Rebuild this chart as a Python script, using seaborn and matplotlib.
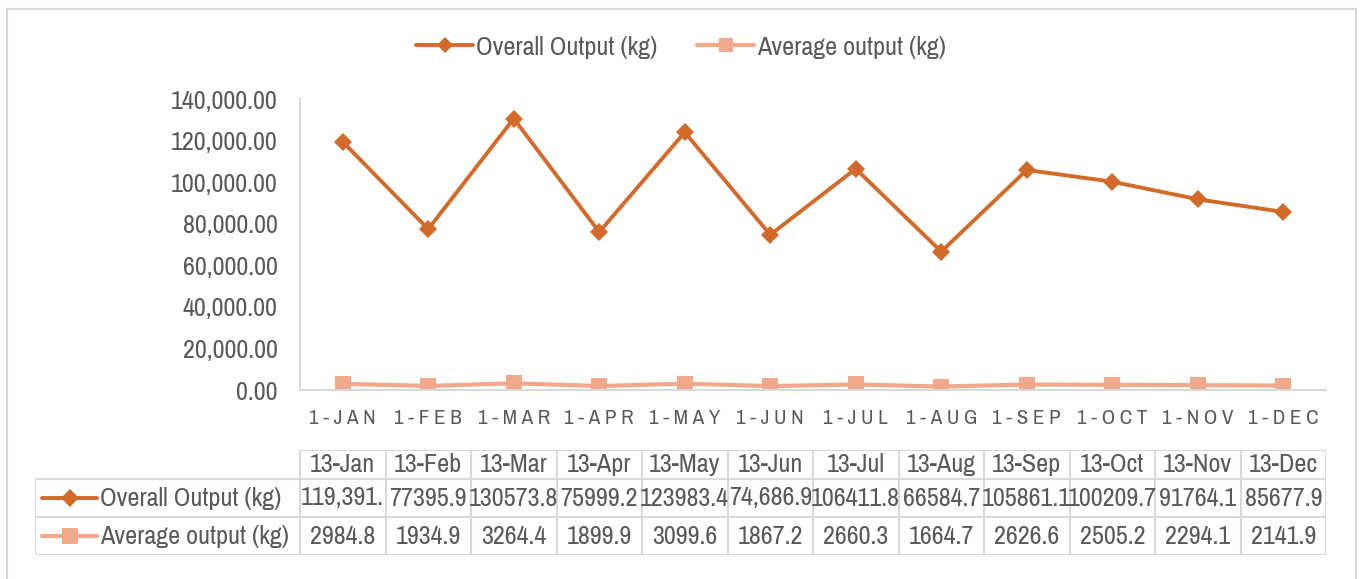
import numpy as np
import pandas as pd
import matplotlib
matplotlib.use('Agg')
import matplotlib.pyplot as plt
import seaborn as sns
from matplotlib.lines import Line2D
from matplotlib.patches import Rectangle

months = ['1-JAN', '1-FEB', '1-MAR', '1-APR', '1-MAY', '1-JUN',
          '1-JUL', '1-AUG', '1-SEP', '1-OCT', '1-NOV', '1-DEC']
table_header = ['13-Jan', '13-Feb', '13-Mar', '13-Apr', '13-May', '13-Jun',
                '13-Jul', '13-Aug', '13-Sep', '13-Oct', '13-Nov', '13-Dec']
overall = [119391.0, 77395.9, 130573.8, 75999.2, 123983.4, 74686.9,
           106411.8, 66584.7, 105861.1, 100209.7, 91764.1, 85677.9]
average = [2984.8, 1934.9, 3264.4, 1899.9, 3099.6, 1867.2,
           2660.3, 1664.7, 2626.6, 2505.2, 2294.1, 2141.9]
overall_text = ['119,391.', '77395.9', '130573.8', '75999.2', '123983.4', '74,686.9',
                '106411.8', '66584.7', '105861.1', '100209.7', '91764.1', '85677.9']
average_text = ['2984.8', '1934.9', '3264.4', '1899.9', '3099.6', '1867.2',
                '2660.3', '1664.7', '2626.6', '2505.2', '2294.1', '2141.9']

sns.set_style('white')
plt.rcParams['font.family'] = ['Pragati Narrow', 'PT Sans Narrow', 'Liberation Sans', 'DejaVu Sans']

c_overall = '#D46A2A'
c_avg = '#F2A88A'
grey = '#D9D9D9'
txt = '#595959'
fs = 20.5

df = pd.DataFrame({'month': months, 'Overall Output (kg)': overall,
                   'Average output (kg)': average})

W, H = 1362, 579
fig = plt.figure(figsize=(W / 100, H / 100), dpi=100)

# outer chart border
fig.patches.append(Rectangle((7 / W, -0.01), 1349 / W, 1 - 9 / H + 0.01,
                             transform=fig.transFigure, fill=False,
                             edgecolor=grey, lw=1.5))

ax = fig.add_axes([300 / W, 1 - 390 / H, 1026 / W, 291 / H])
sns.lineplot(data=df, x='month', y='Overall Output (kg)', ax=ax, color=c_overall,
             lw=2.8, marker='D', markersize=9, markeredgewidth=0, sort=False)
sns.lineplot(data=df, x='month', y='Average output (kg)', ax=ax, color=c_avg,
             lw=3, marker='s', markersize=12, markeredgewidth=0, sort=False)

ax.set_xlim(-0.5, 11.5)
ax.set_ylim(0, 140000)
ax.set_yticks(np.arange(0, 140001, 20000))
ax.set_yticklabels([f'{v:,.2f}' for v in np.arange(0, 140001, 20000)])
ax.set_xticks(range(12))
ax.set_xticklabels(['\u2009'.join(m) for m in months])
ax.set_xticks(np.arange(-0.5, 12, 1), minor=True)
ax.tick_params(axis='x', which='major', length=0, pad=14, labelsize=16.5, colors=txt)
ax.tick_params(axis='x', which='minor', length=6, color=grey, width=1.5)
ax.tick_params(axis='y', length=0, pad=16, labelsize=fs, colors=txt)
ax.set_xlabel('')
ax.set_ylabel('')
for s in ['top', 'right']:
    ax.spines[s].set_visible(False)
for s in ['left', 'bottom']:
    ax.spines[s].set_color(grey)
    ax.spines[s].set_linewidth(1.5)

handles = [Line2D([], [], color=c_overall, lw=2.8, marker='D', markersize=8, markeredgewidth=0),
           Line2D([], [], color=c_avg, lw=3, marker='s', markersize=10, markeredgewidth=0)]
fig.legend(handles, ['Overall Output (kg)', 'Average output (kg)'], loc='center',
           bbox_to_anchor=(0.5, 1 - 47 / H), ncol=2, frameon=False, fontsize=fs,
           handlelength=2.0, handletextpad=0.1, columnspacing=1.4, labelcolor=txt)

# data table below the axis
left_px = 35
x0 = (left_px - 300) / 85.5 - 0.5
tax = fig.add_axes([left_px / W, 1 - 555 / H, (1326 - left_px) / W, 105 / H])
tax.set_xlim(x0, 11.5)
tax.set_ylim(105, 0)
tax.axis('off')
lk = dict(color=grey, lw=1.5, solid_capstyle='projecting')
tax.plot([-0.5, 11.5], [0, 0], **lk)
for y in [29, 67, 105]:
    tax.plot([x0, 11.5], [y, y], **lk)
tax.plot([x0, x0], [29, 105], **lk)
for xb in np.arange(-0.5, 12, 1):
    tax.plot([xb, xb], [0, 105], **lk)
for i in range(12):
    tax.text(i, 14.5, table_header[i], ha='center', va='center', fontsize=fs, color=txt)
    tax.text(i, 48, overall_text[i], ha='center', va='center', fontsize=fs, color=txt)
    tax.text(i, 86, average_text[i], ha='center', va='center', fontsize=fs, color=txt)
k0 = (42 - 300) / 85.5 - 0.5
k1 = (97 - 300) / 85.5 - 0.5
tax.plot([k0, k1], [48, 48], color=c_overall, lw=2.8)
tax.plot([(k0 + k1) / 2], [48], color=c_overall, marker='D', markersize=9, markeredgewidth=0)
tax.plot([k0, k1], [86, 86], color=c_avg, lw=3)
tax.plot([(k0 + k1) / 2], [86], color=c_avg, marker='s', markersize=11, markeredgewidth=0)
tax.text(k1 + 0.04, 48, 'Overall Output (kg)', ha='left', va='center', fontsize=fs, color=txt)
tax.text(k1 + 0.04, 86, 'Average output (kg)', ha='left', va='center', fontsize=fs, color=txt)

fig.savefig('out.png', dpi=100)
